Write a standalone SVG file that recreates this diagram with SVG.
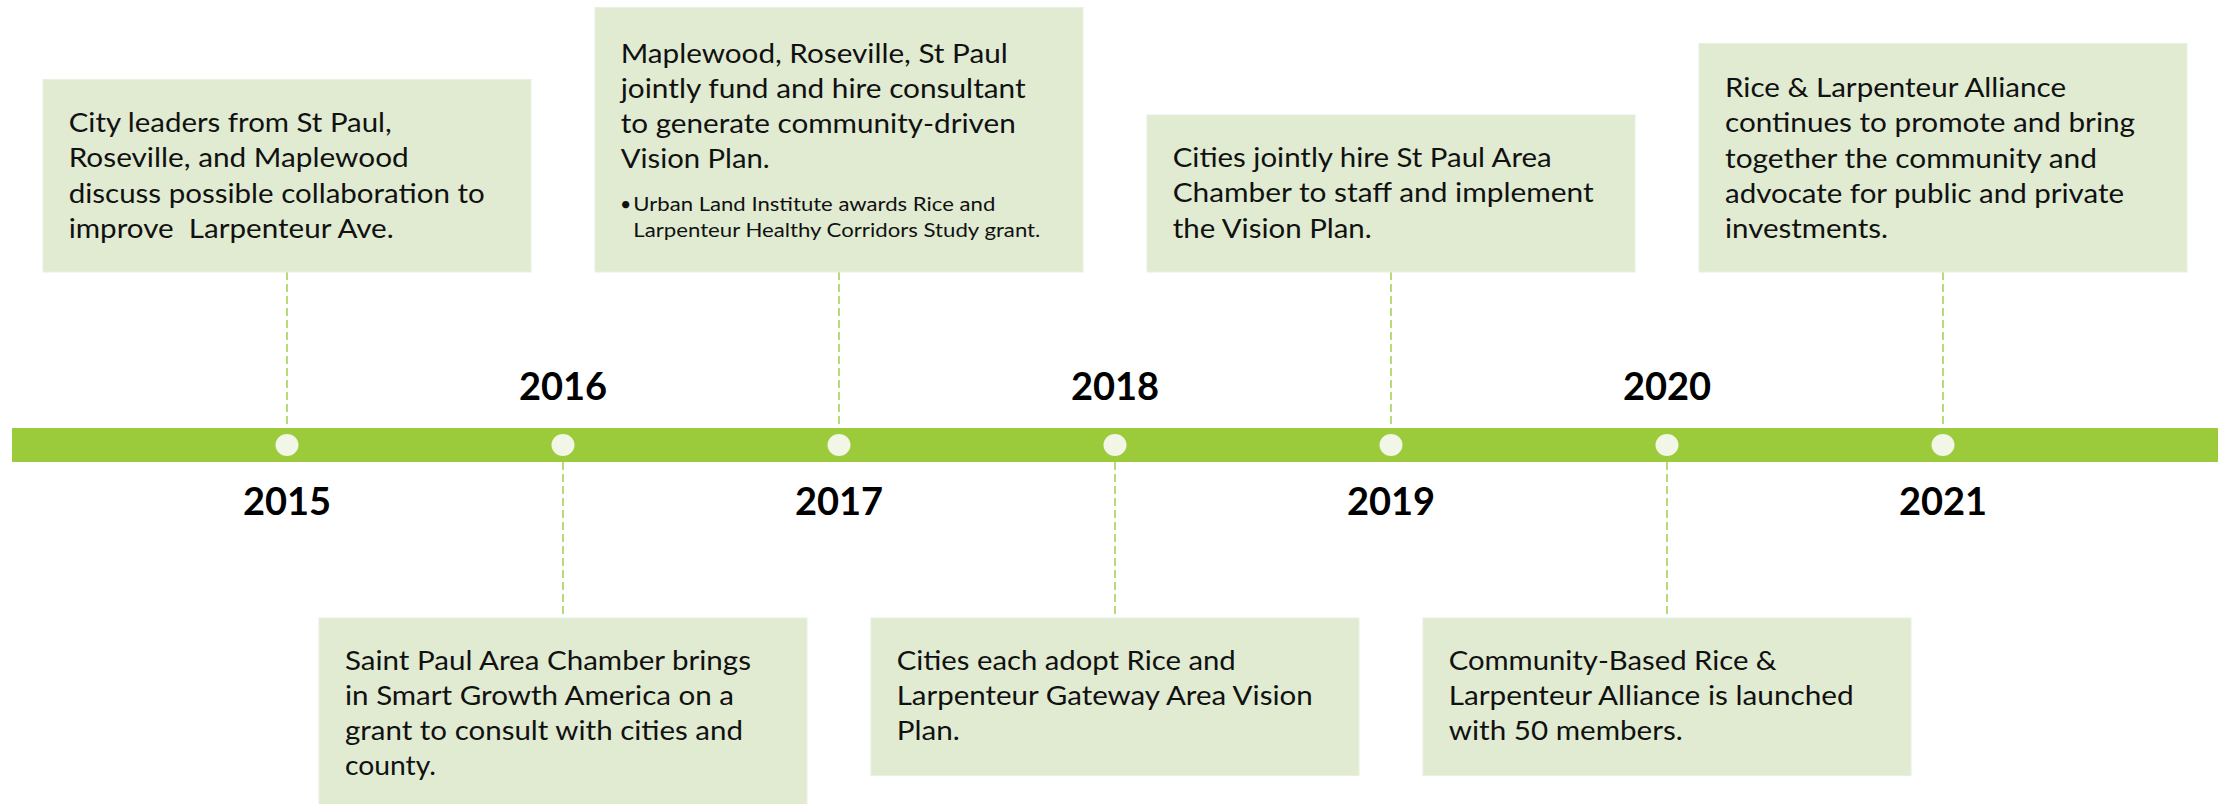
<svg xmlns="http://www.w3.org/2000/svg" width="2224" height="804" viewBox="0 0 2224 804">
<style>
.box{fill:#E0EBD2;stroke:#E8F0DE;stroke-width:1}
.t{font-family:Lato,"Open Sans",sans-serif;font-size:27.5px;fill:#111}
.s{font-family:Lato,"Open Sans",sans-serif;font-size:19.5px;fill:#111}
.yr{font-family:Lato,"Open Sans",sans-serif;font-size:38px;font-weight:bold;fill:#000;text-anchor:middle}
.dash{stroke:#A6D15A;stroke-width:1.6;stroke-dasharray:8 4;fill:none}
.dot{fill:#F1F6E7}
</style>
<rect x="0" y="0" width="2224" height="804" fill="#FFFFFF"/>
<g id="connectors">
<line class="dash" x1="287" y1="272" x2="287" y2="428"/>
<line class="dash" x1="563" y1="462" x2="563" y2="618"/>
<line class="dash" x1="839" y1="272" x2="839" y2="428"/>
<line class="dash" x1="1115" y1="462" x2="1115" y2="618"/>
<line class="dash" x1="1391" y1="272" x2="1391" y2="428"/>
<line class="dash" x1="1667" y1="462" x2="1667" y2="618"/>
<line class="dash" x1="1943" y1="272" x2="1943" y2="428"/>
</g>
<g id="timeline">
<rect x="12" y="428" width="2206" height="34" fill="#9BCB3B"/>
<ellipse class="dot" cx="287" cy="445" rx="11.5" ry="11"/>
<ellipse class="dot" cx="563" cy="445" rx="11.5" ry="11"/>
<ellipse class="dot" cx="839" cy="445" rx="11.5" ry="11"/>
<ellipse class="dot" cx="1115" cy="445" rx="11.5" ry="11"/>
<ellipse class="dot" cx="1391" cy="445" rx="11.5" ry="11"/>
<ellipse class="dot" cx="1667" cy="445" rx="11.5" ry="11"/>
<ellipse class="dot" cx="1943" cy="445" rx="11.5" ry="11"/>
</g>
<g id="years">
<text class="yr" x="287" y="515">2015</text>
<text class="yr" x="563" y="400">2016</text>
<text class="yr" x="839" y="515">2017</text>
<text class="yr" x="1115" y="400">2018</text>
<text class="yr" x="1391" y="515">2019</text>
<text class="yr" x="1667" y="400">2020</text>
<text class="yr" x="1943" y="515">2021</text>
</g>
<g id="event-2015">
<rect class="box" x="43" y="79.5" width="488" height="192.5"/>
<text class="t" x="68.7" y="132.3" textLength="323" lengthAdjust="spacingAndGlyphs">City leaders from St Paul,</text>
<text class="t" x="68.7" y="167.3" textLength="340" lengthAdjust="spacingAndGlyphs">Roseville, and Maplewood</text>
<text class="t" x="68.7" y="202.7" textLength="416" lengthAdjust="spacingAndGlyphs">discuss possible collaboration to</text>
<text class="t" x="68.7" y="237.7" textLength="325" lengthAdjust="spacingAndGlyphs">improve&#160; Larpenteur Ave.</text>
</g>
<g id="event-2016">
<rect class="box" x="319" y="618" width="488" height="190"/>
<text class="t" x="345" y="670.3" textLength="406" lengthAdjust="spacingAndGlyphs">Saint Paul Area Chamber brings</text>
<text class="t" x="345" y="705.3" textLength="389" lengthAdjust="spacingAndGlyphs">in Smart Growth America on a</text>
<text class="t" x="345" y="740.3" textLength="398" lengthAdjust="spacingAndGlyphs">grant to consult with cities and</text>
<text class="t" x="345" y="775.3" textLength="91" lengthAdjust="spacingAndGlyphs">county.</text>
</g>
<g id="event-2017">
<rect class="box" x="595" y="7.5" width="488" height="264.5"/>
<text class="t" x="620.7" y="62.7" textLength="387" lengthAdjust="spacingAndGlyphs">Maplewood, Roseville, St Paul</text>
<text class="t" x="620.7" y="98" textLength="405" lengthAdjust="spacingAndGlyphs">jointly fund and hire consultant</text>
<text class="t" x="620.7" y="133.3" textLength="395" lengthAdjust="spacingAndGlyphs">to generate community-driven</text>
<text class="t" x="620.7" y="168.3" textLength="149" lengthAdjust="spacingAndGlyphs">Vision Plan.</text>
<text class="s" x="620" y="210.7">•</text>
<text class="s" x="633.3" y="210.7" textLength="362" lengthAdjust="spacingAndGlyphs">Urban Land Institute awards Rice and</text>
<text class="s" x="633.3" y="236.7" textLength="407" lengthAdjust="spacingAndGlyphs">Larpenteur Healthy Corridors Study grant.</text>
</g>
<g id="event-2018">
<rect class="box" x="871" y="618" width="488" height="157.5"/>
<text class="t" x="896.7" y="670.3" textLength="339" lengthAdjust="spacingAndGlyphs">Cities each adopt Rice and</text>
<text class="t" x="896.7" y="705.3" textLength="416" lengthAdjust="spacingAndGlyphs">Larpenteur Gateway Area Vision</text>
<text class="t" x="896.7" y="740.3" textLength="63" lengthAdjust="spacingAndGlyphs">Plan.</text>
</g>
<g id="event-2019">
<rect class="box" x="1147" y="115" width="488" height="157"/>
<text class="t" x="1172.7" y="167.3" textLength="379" lengthAdjust="spacingAndGlyphs">Cities jointly hire St Paul Area</text>
<text class="t" x="1172.7" y="202.3" textLength="421" lengthAdjust="spacingAndGlyphs">Chamber to staff and implement</text>
<text class="t" x="1172.7" y="237.7" textLength="199" lengthAdjust="spacingAndGlyphs">the Vision Plan.</text>
</g>
<g id="event-2020">
<rect class="box" x="1423" y="618" width="488" height="157.5"/>
<text class="t" x="1448.7" y="670.3" textLength="328" lengthAdjust="spacingAndGlyphs">Community-Based Rice &amp;</text>
<text class="t" x="1448.7" y="705.3" textLength="405" lengthAdjust="spacingAndGlyphs">Larpenteur Alliance is launched</text>
<text class="t" x="1448.7" y="740.3" textLength="234" lengthAdjust="spacingAndGlyphs">with 50 members.</text>
</g>
<g id="event-2021">
<rect class="box" x="1699" y="43.5" width="488" height="228.5"/>
<text class="t" x="1725" y="97.3" textLength="341" lengthAdjust="spacingAndGlyphs">Rice &amp; Larpenteur Alliance</text>
<text class="t" x="1725" y="132.4" textLength="410" lengthAdjust="spacingAndGlyphs">continues to promote and bring</text>
<text class="t" x="1725" y="167.5" textLength="372" lengthAdjust="spacingAndGlyphs">together the community and</text>
<text class="t" x="1725" y="202.6" textLength="399" lengthAdjust="spacingAndGlyphs">advocate for public and private</text>
<text class="t" x="1725" y="237.7" textLength="163" lengthAdjust="spacingAndGlyphs">investments.</text>
</g>
</svg>
